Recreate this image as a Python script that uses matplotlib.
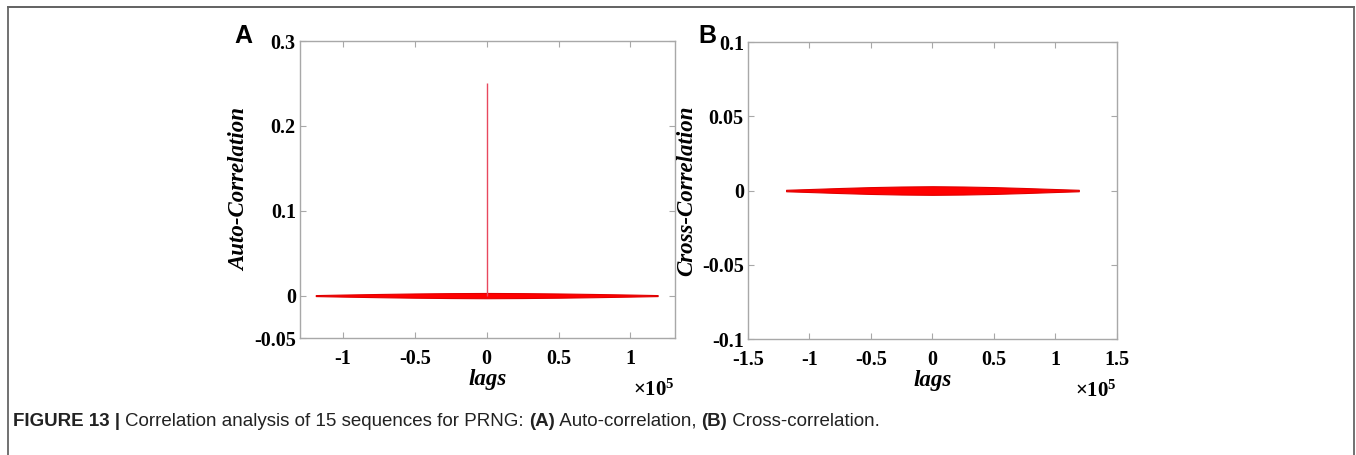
import numpy as np
import matplotlib.pyplot as plt
from matplotlib.lines import Line2D
from matplotlib.ticker import FuncFormatter, FixedLocator

plt.rcParams['axes.unicode_minus'] = False
plt.rcParams['mathtext.fontset'] = 'custom'
plt.rcParams['mathtext.rm'] = 'Liberation Serif:bold'
plt.rcParams['mathtext.it'] = 'Liberation Serif:bold:italic'
plt.rcParams['mathtext.bf'] = 'Liberation Serif:bold'

### datos leidos de la figura
# envolvente de la banda de correlacion (lags, amplitud)
lags_env = [-1.19e5, -1.0e5, -0.75e5, -0.5e5, -0.25e5, 0, 0.25e5, 0.5e5, 0.75e5, 1.0e5, 1.19e5]
auto_env = [0.0006, 0.0012, 0.0019, 0.0025, 0.0029, 0.0031, 0.0029, 0.0025, 0.0019, 0.0012, 0.0006]
cross_env = [0.0005, 0.0010, 0.0017, 0.0023, 0.0027, 0.0029, 0.0027, 0.0023, 0.0017, 0.0010, 0.0005]
pico_lag = 0
pico_valor = 0.25

xticks_a = [-1e5, -0.5e5, 0, 0.5e5, 1e5]
yticks_a = [-0.05, 0, 0.1, 0.2, 0.3]
xticks_b = [-1.5e5, -1e5, -0.5e5, 0, 0.5e5, 1e5, 1.5e5]
yticks_b = [-0.1, -0.05, 0, 0.05, 0.1]

serif = 'Liberation Serif'
gris = '#a8a8a8'

fig = plt.figure(figsize=(13.56, 4.55), dpi=100)

# marco y pie de figura
fondo = fig.add_axes([0, 0, 1, 1])
fondo.set_xlim(0, 1356)
fondo.set_ylim(455, 0)
fondo.axis('off')
fondo.add_line(Line2D([8, 1354], [7, 7], color='#555555', lw=1.3))
fondo.add_line(Line2D([8, 8], [7, 455], color='#666666', lw=1.3))
fondo.add_line(Line2D([1354, 1354], [7, 455], color='#666666', lw=1.3))

partes = [('FIGURE 13 | ', 'bold'), ('Correlation analysis of 15 sequences for PRNG: ', 'normal'),
          ('(A)', 'bold'), (' Auto-correlation, ', 'normal'), ('(B)', 'bold'), (' Cross-correlation.', 'normal')]
t = fondo.text(13, 426, partes[0][0], fontsize=13.5, fontweight=partes[0][1],
               family='Liberation Sans', va='baseline', color='#222222')
for texto, peso in partes[1:]:
    t = fondo.annotate(texto, xy=(1, 0), xycoords=t, fontsize=13.5, fontweight=peso,
                       family='Liberation Sans', va='bottom', color='#222222')


def preparar(ax, xlim, ylim, xticks, yticks, ylabel):
    ax.set_xlim(*xlim)
    ax.set_ylim(*ylim)
    ax.xaxis.set_major_locator(FixedLocator(xticks))
    ax.yaxis.set_major_locator(FixedLocator(yticks))
    ax.xaxis.set_major_formatter(FuncFormatter(lambda v, p: f'{v/1e5:g}'))
    ax.yaxis.set_major_formatter(FuncFormatter(lambda v, p: f'{v:g}'))
    for s in ax.spines.values():
        s.set_color(gris)
        s.set_linewidth(1.0)
    ax.tick_params(direction='in', top=True, right=True, length=4, width=0.8, color=gris,
                   labelsize=14.5, pad=3)
    ax.tick_params(axis='x', pad=8)
    for lab in ax.get_xticklabels() + ax.get_yticklabels():
        lab.set_family(serif)
        lab.set_fontweight('bold')
    ax.set_xlabel('lags', family=serif, fontsize=16.5, fontweight='bold', style='italic', labelpad=0)
    ax.set_ylabel(ylabel, family=serif, fontsize=16.5, fontweight='bold', style='italic')
    ax.text(1.0, -0.135, r'$\times10^{5}$', transform=ax.transAxes, ha='right', va='top', fontsize=15)


# panel A
ax1 = fig.add_axes([0.2212, 0.2571, 0.2765, 0.6527])
ax1.fill_between(lags_env, -np.array(auto_env), auto_env, color='#ff0000', lw=0.8, edgecolor='#e00000')
ax1.vlines(pico_lag, 0, pico_valor, color='#e8485e', lw=1.0)
preparar(ax1, (-1.3e5, 1.31e5), (-0.05, 0.3), xticks_a, yticks_a, 'Auto-Correlation')
ax1.yaxis.set_label_coords(-0.133, 0.5)
fig.text(243 / 1356, 1 - 36 / 455, 'A', family='Liberation Sans', fontweight='bold', fontsize=18,
         ha='center', va='center')

# panel B
ax2 = fig.add_axes([0.5516, 0.2549, 0.2721, 0.6527])
ax2.fill_between(lags_env, -np.array(cross_env), cross_env, color='#ff0000', lw=0.8, edgecolor='#e00000')
preparar(ax2, (-1.5e5, 1.5e5), (-0.1, 0.1), xticks_b, yticks_b, 'Cross-Correlation')
ax2.yaxis.set_label_coords(-0.138, 0.5)
fig.text(707 / 1356, 1 - 36 / 455, 'B', family='Liberation Sans', fontweight='bold', fontsize=18,
         ha='center', va='center')

fig.savefig('out.png', dpi=100)
